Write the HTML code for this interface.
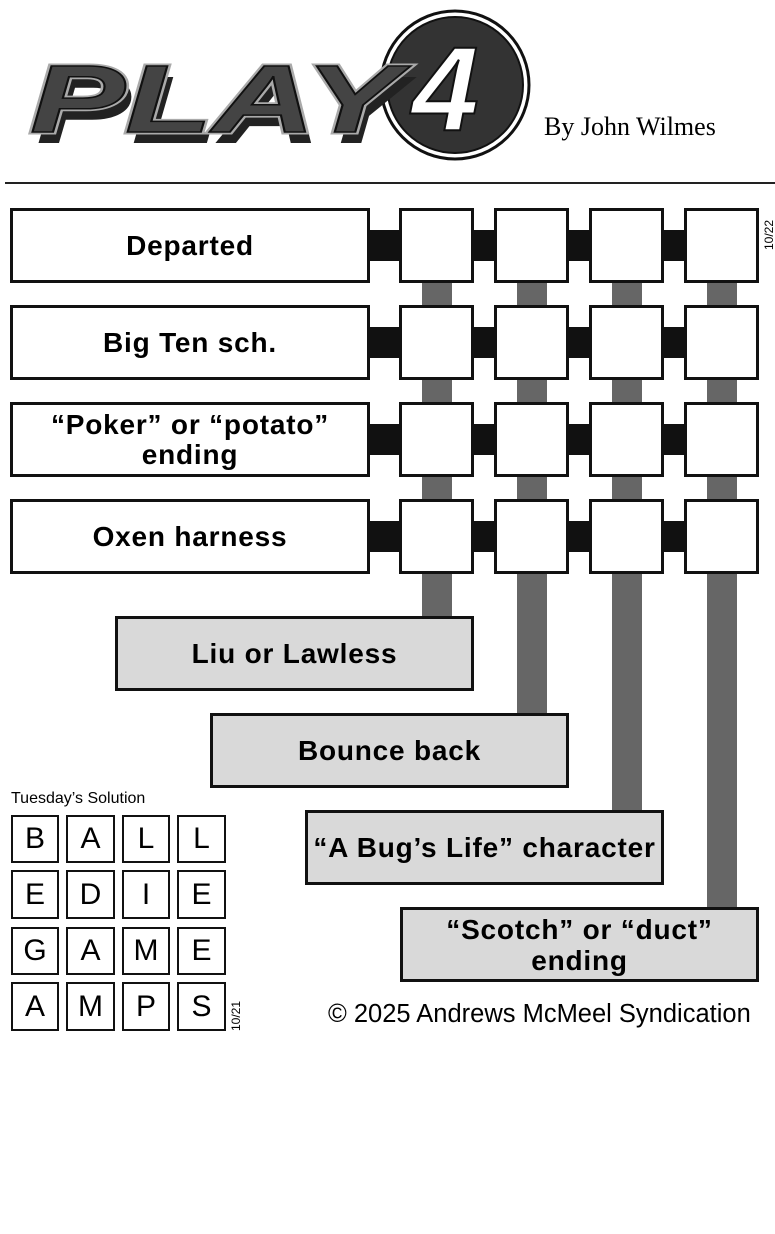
<!DOCTYPE html>
<html><head><style>
body{margin:0;width:775px;height:1234px;background:#fff;position:relative;font-family:"Liberation Sans",sans-serif;overflow:hidden}
.a{position:absolute;box-sizing:border-box}
.clue{border:3px solid #111;background:#fff;display:flex;align-items:center;justify-content:center;text-align:center;font-weight:bold;font-size:28px;letter-spacing:0.8px;line-height:30px}
.sq{border:3px solid #111;background:#fff}
.blk{background:#111}
.bar{background:#666}
.ans{border:3px solid #111;background:#d9d9d9;display:flex;align-items:center;justify-content:center;text-align:center;font-weight:bold;font-size:28px;letter-spacing:0.8px;line-height:31px;white-space:nowrap}
.sol{border:2px solid #111;display:flex;align-items:center;justify-content:center;font-size:30px;background:#fff}
</style></head><body>
<svg class="a" style="left:0;top:0" width="560" height="170">
<circle cx="455" cy="85" r="74" fill="#fff" stroke="#111" stroke-width="3"/>
<circle cx="455" cy="85" r="68" fill="#333" stroke="#111" stroke-width="2"/>
<text x="36" y="143" font-family="Liberation Sans" font-style="italic" font-weight="bold" font-size="96" fill="#222" textLength="370" lengthAdjust="spacingAndGlyphs">PLAY</text>
<text x="30" y="132" font-family="Liberation Sans" font-style="italic" font-weight="bold" font-size="96" fill="#444" stroke="#aaa" stroke-width="5" paint-order="stroke" textLength="370" lengthAdjust="spacingAndGlyphs">PLAY</text>
<text x="30" y="132" font-family="Liberation Sans" font-style="italic" font-weight="bold" font-size="96" fill="#444" stroke="#111" stroke-width="1.5" textLength="370" lengthAdjust="spacingAndGlyphs">PLAY</text>
<text x="412" y="130" font-family="Liberation Sans" font-style="italic" font-weight="bold" font-size="120" fill="#fff" stroke="#111" stroke-width="2">4</text>
</svg>
<div class="a" style="left:544px;top:112px;font-family:'Liberation Serif',serif;font-size:26px">By John Wilmes</div>
<div class="a" style="left:5px;top:182px;width:770px;height:2px;background:#222"></div>

<div class="a bar" style="left:422px;top:280px;width:30px;height:340px"></div>
<div class="a bar" style="left:517px;top:280px;width:30px;height:437px"></div>
<div class="a bar" style="left:612px;top:280px;width:30px;height:534px"></div>
<div class="a bar" style="left:707px;top:280px;width:30px;height:631px"></div>

<div class="a blk" style="left:365px;top:230px;width:390px;height:31px"></div>
<div class="a blk" style="left:365px;top:327px;width:390px;height:31px"></div>
<div class="a blk" style="left:365px;top:424px;width:390px;height:31px"></div>
<div class="a blk" style="left:365px;top:521px;width:390px;height:31px"></div>

<div class="a clue" style="left:10px;top:208px;width:360px;height:75px">Departed</div>
<div class="a clue" style="left:10px;top:305px;width:360px;height:75px">Big Ten sch.</div>
<div class="a clue" style="left:10px;top:402px;width:360px;height:75px">“Poker” or “potato”<br>ending</div>
<div class="a clue" style="left:10px;top:499px;width:360px;height:75px">Oxen harness</div>

<div class="a sq" style="left:399px;top:208px;width:75px;height:75px"></div>
<div class="a sq" style="left:494px;top:208px;width:75px;height:75px"></div>
<div class="a sq" style="left:589px;top:208px;width:75px;height:75px"></div>
<div class="a sq" style="left:684px;top:208px;width:75px;height:75px"></div>
<div class="a sq" style="left:399px;top:305px;width:75px;height:75px"></div>
<div class="a sq" style="left:494px;top:305px;width:75px;height:75px"></div>
<div class="a sq" style="left:589px;top:305px;width:75px;height:75px"></div>
<div class="a sq" style="left:684px;top:305px;width:75px;height:75px"></div>
<div class="a sq" style="left:399px;top:402px;width:75px;height:75px"></div>
<div class="a sq" style="left:494px;top:402px;width:75px;height:75px"></div>
<div class="a sq" style="left:589px;top:402px;width:75px;height:75px"></div>
<div class="a sq" style="left:684px;top:402px;width:75px;height:75px"></div>
<div class="a sq" style="left:399px;top:499px;width:75px;height:75px"></div>
<div class="a sq" style="left:494px;top:499px;width:75px;height:75px"></div>
<div class="a sq" style="left:589px;top:499px;width:75px;height:75px"></div>
<div class="a sq" style="left:684px;top:499px;width:75px;height:75px"></div>
<div class="a" style="font-size:12px;transform:rotate(-90deg);transform-origin:left top;top:250px;left:762px">10/22</div>

<div class="a ans" style="left:115px;top:616px;width:359px;height:75px">Liu or Lawless</div>
<div class="a ans" style="left:210px;top:713px;width:359px;height:75px">Bounce back</div>
<div class="a ans" style="left:305px;top:810px;width:359px;height:75px">“A Bug’s Life” character</div>
<div class="a ans" style="left:400px;top:907px;width:359px;height:75px">“Scotch” or “duct”<br>ending</div>

<div class="a" style="left:11px;top:790px;font-size:16px">Tuesday’s Solution</div>
<div class="a sol" style="left:11px;top:815px;width:48px;height:48px">B</div>
<div class="a sol" style="left:66px;top:815px;width:49px;height:48px">A</div>
<div class="a sol" style="left:122px;top:815px;width:48px;height:48px">L</div>
<div class="a sol" style="left:177px;top:815px;width:49px;height:48px">L</div>
<div class="a sol" style="left:11px;top:870px;width:48px;height:49px">E</div>
<div class="a sol" style="left:66px;top:870px;width:49px;height:49px">D</div>
<div class="a sol" style="left:122px;top:870px;width:48px;height:49px">I</div>
<div class="a sol" style="left:177px;top:870px;width:49px;height:49px">E</div>
<div class="a sol" style="left:11px;top:927px;width:48px;height:48px">G</div>
<div class="a sol" style="left:66px;top:927px;width:49px;height:48px">A</div>
<div class="a sol" style="left:122px;top:927px;width:48px;height:48px">M</div>
<div class="a sol" style="left:177px;top:927px;width:49px;height:48px">E</div>
<div class="a sol" style="left:11px;top:982px;width:48px;height:49px">A</div>
<div class="a sol" style="left:66px;top:982px;width:49px;height:49px">M</div>
<div class="a sol" style="left:122px;top:982px;width:48px;height:49px">P</div>
<div class="a sol" style="left:177px;top:982px;width:49px;height:49px">S</div>
<div class="a" style="font-size:12px;transform:rotate(-90deg);transform-origin:left top;left:229px;top:1031px">10/21</div>

<div class="a" style="left:328px;top:1000px;font-size:25.5px">© 2025 Andrews McMeel Syndication</div>
</body></html>
